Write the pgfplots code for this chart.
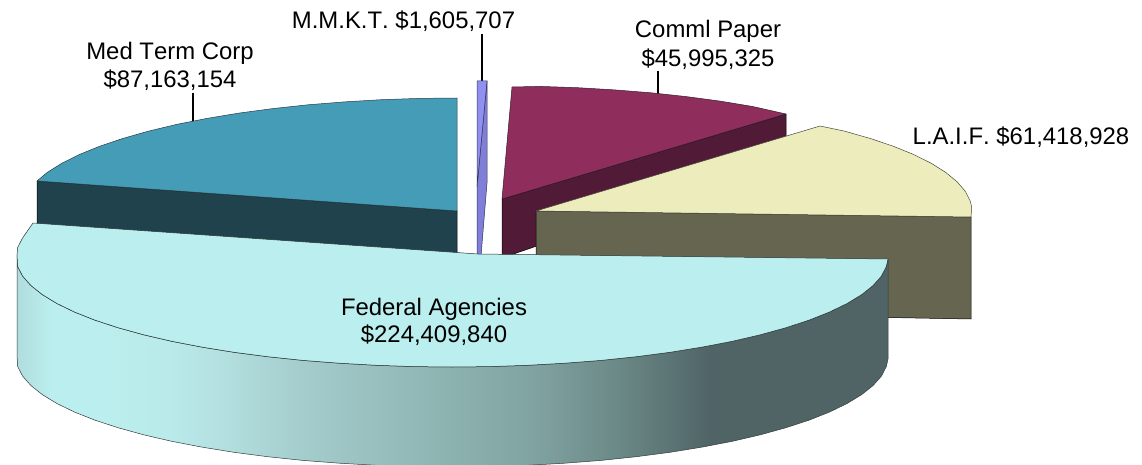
\documentclass[border=0pt]{standalone}
\usepackage{pgfplots}
\pgfplotsset{compat=1.18}
\usepackage{fontspec}
\setmainfont[Kerning=Off]{Liberation Sans}
\definecolor{fa}{RGB}{176,220,220}
\definecolor{fb}{RGB}{187,238,238}
\definecolor{fc}{RGB}{186,234,234}
\definecolor{fc2}{RGB}{178,222,222}
\definecolor{fd}{RGB}{165,205,205}
\definecolor{fe}{RGB}{140,178,176}
\definecolor{ff}{RGB}{128,163,161}
\definecolor{fg}{RGB}{106,136,134}
\definecolor{fh}{RGB}{80,100,102}
\definecolor{fedtop}{RGB}{187,238,238}
\pgfdeclarehorizontalshading{fedside}{100bp}{color(0bp)=(fa); color(25bp)=(fa); color(26.9bp)=(fb); color(30bp)=(fb); color(33.8bp)=(fc); color(37.2bp)=(fc2); color(41.2bp)=(fd); color(49.9bp)=(fe); color(54.7bp)=(ff); color(59.6bp)=(fg); color(64.8bp)=(fh); color(75bp)=(fh); color(100bp)=(fh)}
\tikzset{lbl/.style={font=\fontsize{23.9pt}{28pt}\selectfont, text=black, inner sep=0pt, anchor=base}}
\begin{document}
\begin{tikzpicture}
\begin{axis}[
  width=1142pt, height=465pt, scale only axis,
  xmin=0, xmax=1142, ymin=0, ymax=465, y dir=reverse,
  axis lines=none, no markers,
  every axis plot/.append style={line width=0.5pt, line join=round},
]
% leader lines
\addplot[black, line width=1.3pt] coordinates {(193,93) (193,122)};
\addplot[black, line width=1.3pt] coordinates {(482,34) (482,81)};
\addplot[black, line width=1.3pt] coordinates {(658,71) (658,94)};
% Med Term side
\addplot[fill={rgb,255:red,31;green,66;blue,77}, draw=black] coordinates {(37,181) (457,211) (457,256) (37,226)} -- cycle;
% Med Term top
\addplot[fill={rgb,255:red,69;green,156;blue,182}, draw={rgb,255:red,40;green,60;blue,70}] coordinates {
 (457,211) (457,98) (419,98.4) (381.3,99.7) (344.2,101.9) (307.9,104.8) (272.7,108.6) (239,113.1) (206.9,118.4) (176.7,124.4) (148.7,131.1) (123,138.4) (99.8,146.2) (79.4,154.5) (61.9,163.2) (47.3,172.4) (37,181)} -- cycle;
% MMKT
\addplot[fill={rgb,255:red,127;green,127;blue,216}, draw={rgb,255:red,50;green,50;blue,90}] coordinates {(487,81) (487,183) (481,256) (477,256) (477,187)} -- cycle;
\addplot[fill={rgb,255:red,144;green,144;blue,240}, draw={rgb,255:red,50;green,50;blue,90}] coordinates {(477,81) (487,81) (477,187)} -- cycle;
% Comml side
\addplot[fill={rgb,255:red,81;green,26;blue,54}, draw=black] coordinates {(502,199) (786,114) (786,160) (502,258)} -- cycle;
% Comml top
\addplot[fill={rgb,255:red,143;green,46;blue,92}, draw={rgb,255:red,50;green,30;blue,45}] coordinates {
 (502,199) (512,87) (540,86.4) (577.7,87.7) (614.8,89.9) (651.1,92.8) (686.3,96.6) (720,101.1) (752.1,106.4) (786,114)} -- cycle;
% LAIF side
\addplot[fill={rgb,255:red,102;green,102;blue,80}, draw=black] coordinates {(536,211) (971,217) (971,319) (860,317) (536,312)} -- cycle;
% LAIF top
\addplot[fill={rgb,255:red,236;green,236;blue,188}, draw={rgb,255:red,70;green,70;blue,60}] coordinates {
 (536,211) (820,126) (844.3,131.1) (870,138.4) (893.2,146.2) (913.6,154.5) (931.1,163.2) (945.7,172.4) (957.1,181.8) (965.4,191.4) (970.3,201.2) (971.7,207) (971,217)} -- cycle;
% Federal side
\addplot[shade, shading=fedside, draw={rgb,255:red,50;green,60;blue,60}] coordinates {
 (17,255) (17.7,266.6) (22.6,276.1) (30.9,285.5) (42.3,294.6) (56.9,303.5) (74.4,312) (94.8,320.1) (118,327.7) (143.7,334.8) (171.7,341.3) (201.9,347.1) (234,352.3) (267.7,356.7) (302.9,360.4) (339.2,363.2) (376.3,365.3) (414,366.6) (452,367) (490,366.6) (527.7,365.3) (564.8,363.2) (601.1,360.4) (636.3,356.7) (670,352.3) (702.1,347.1) (732.3,341.3) (760.3,334.8) (786,327.7) (809.2,320.1) (829.6,312) (847.1,303.5) (861.7,294.6) (873.1,285.5) (881.4,276.1) (886.3,266.6) (888,259)
 (888,359) (886.3,366.6) (881.4,376.1) (873.1,385.5) (861.7,394.6) (847.1,403.5) (829.6,412) (809.2,420.1) (786,427.7) (760.3,434.8) (732.3,441.3) (702.1,447.1) (670,452.3) (636.3,456.7) (601.1,460.4) (564.8,463.2) (527.7,465.3) (490,466.6) (452,467) (414,466.6) (376.3,465.3) (339.2,463.2) (302.9,460.4) (267.7,456.7) (234,452.3) (201.9,447.1) (171.7,441.3) (143.7,434.8) (118,427.7) (94.8,420.1) (74.4,412) (56.9,403.5) (42.3,394.6) (30.9,385.5) (22.6,376.1) (17.7,366.6) (17,355)} -- cycle;
% Federal top
\addplot[fill=fedtop, draw={rgb,255:red,40;green,50;blue,50}] coordinates {
 (478,254) (33,223) (22.6,237.9) (17.7,247.4) (17,255) (17.7,266.6) (22.6,276.1) (30.9,285.5) (42.3,294.6) (56.9,303.5) (74.4,312) (94.8,320.1) (118,327.7) (143.7,334.8) (171.7,341.3) (201.9,347.1) (234,352.3) (267.7,356.7) (302.9,360.4) (339.2,363.2) (376.3,365.3) (414,366.6) (452,367) (490,366.6) (527.7,365.3) (564.8,363.2) (601.1,360.4) (636.3,356.7) (670,352.3) (702.1,347.1) (732.3,341.3) (760.3,334.8) (786,327.7) (809.2,320.1) (829.6,312) (847.1,303.5) (861.7,294.6) (873.1,285.5) (881.4,276.1) (886.3,266.6) (888,259)} -- cycle;
% labels
\node[lbl] at (axis cs:434,315) {Federal Agencies};
\node[lbl] at (axis cs:434,342) {\$224,409,840};
\node[lbl] at (axis cs:170,60) {Med Term Corp};
\node[lbl] at (axis cs:170,88) {\$87,163,154};
\node[lbl] at (axis cs:403.5,29) {M.M.K.T. \$1,605,707};
\node[lbl] at (axis cs:708,38) {Comml Paper};
\node[lbl] at (axis cs:708,67) {\$45,995,325};
\node[lbl] at (axis cs:1021,145) {L.A.I.F. \$61,418,928};
\end{axis}
\pgfresetboundingbox
\path (0,0) rectangle (1142pt,465pt);
\end{tikzpicture}
\end{document}
